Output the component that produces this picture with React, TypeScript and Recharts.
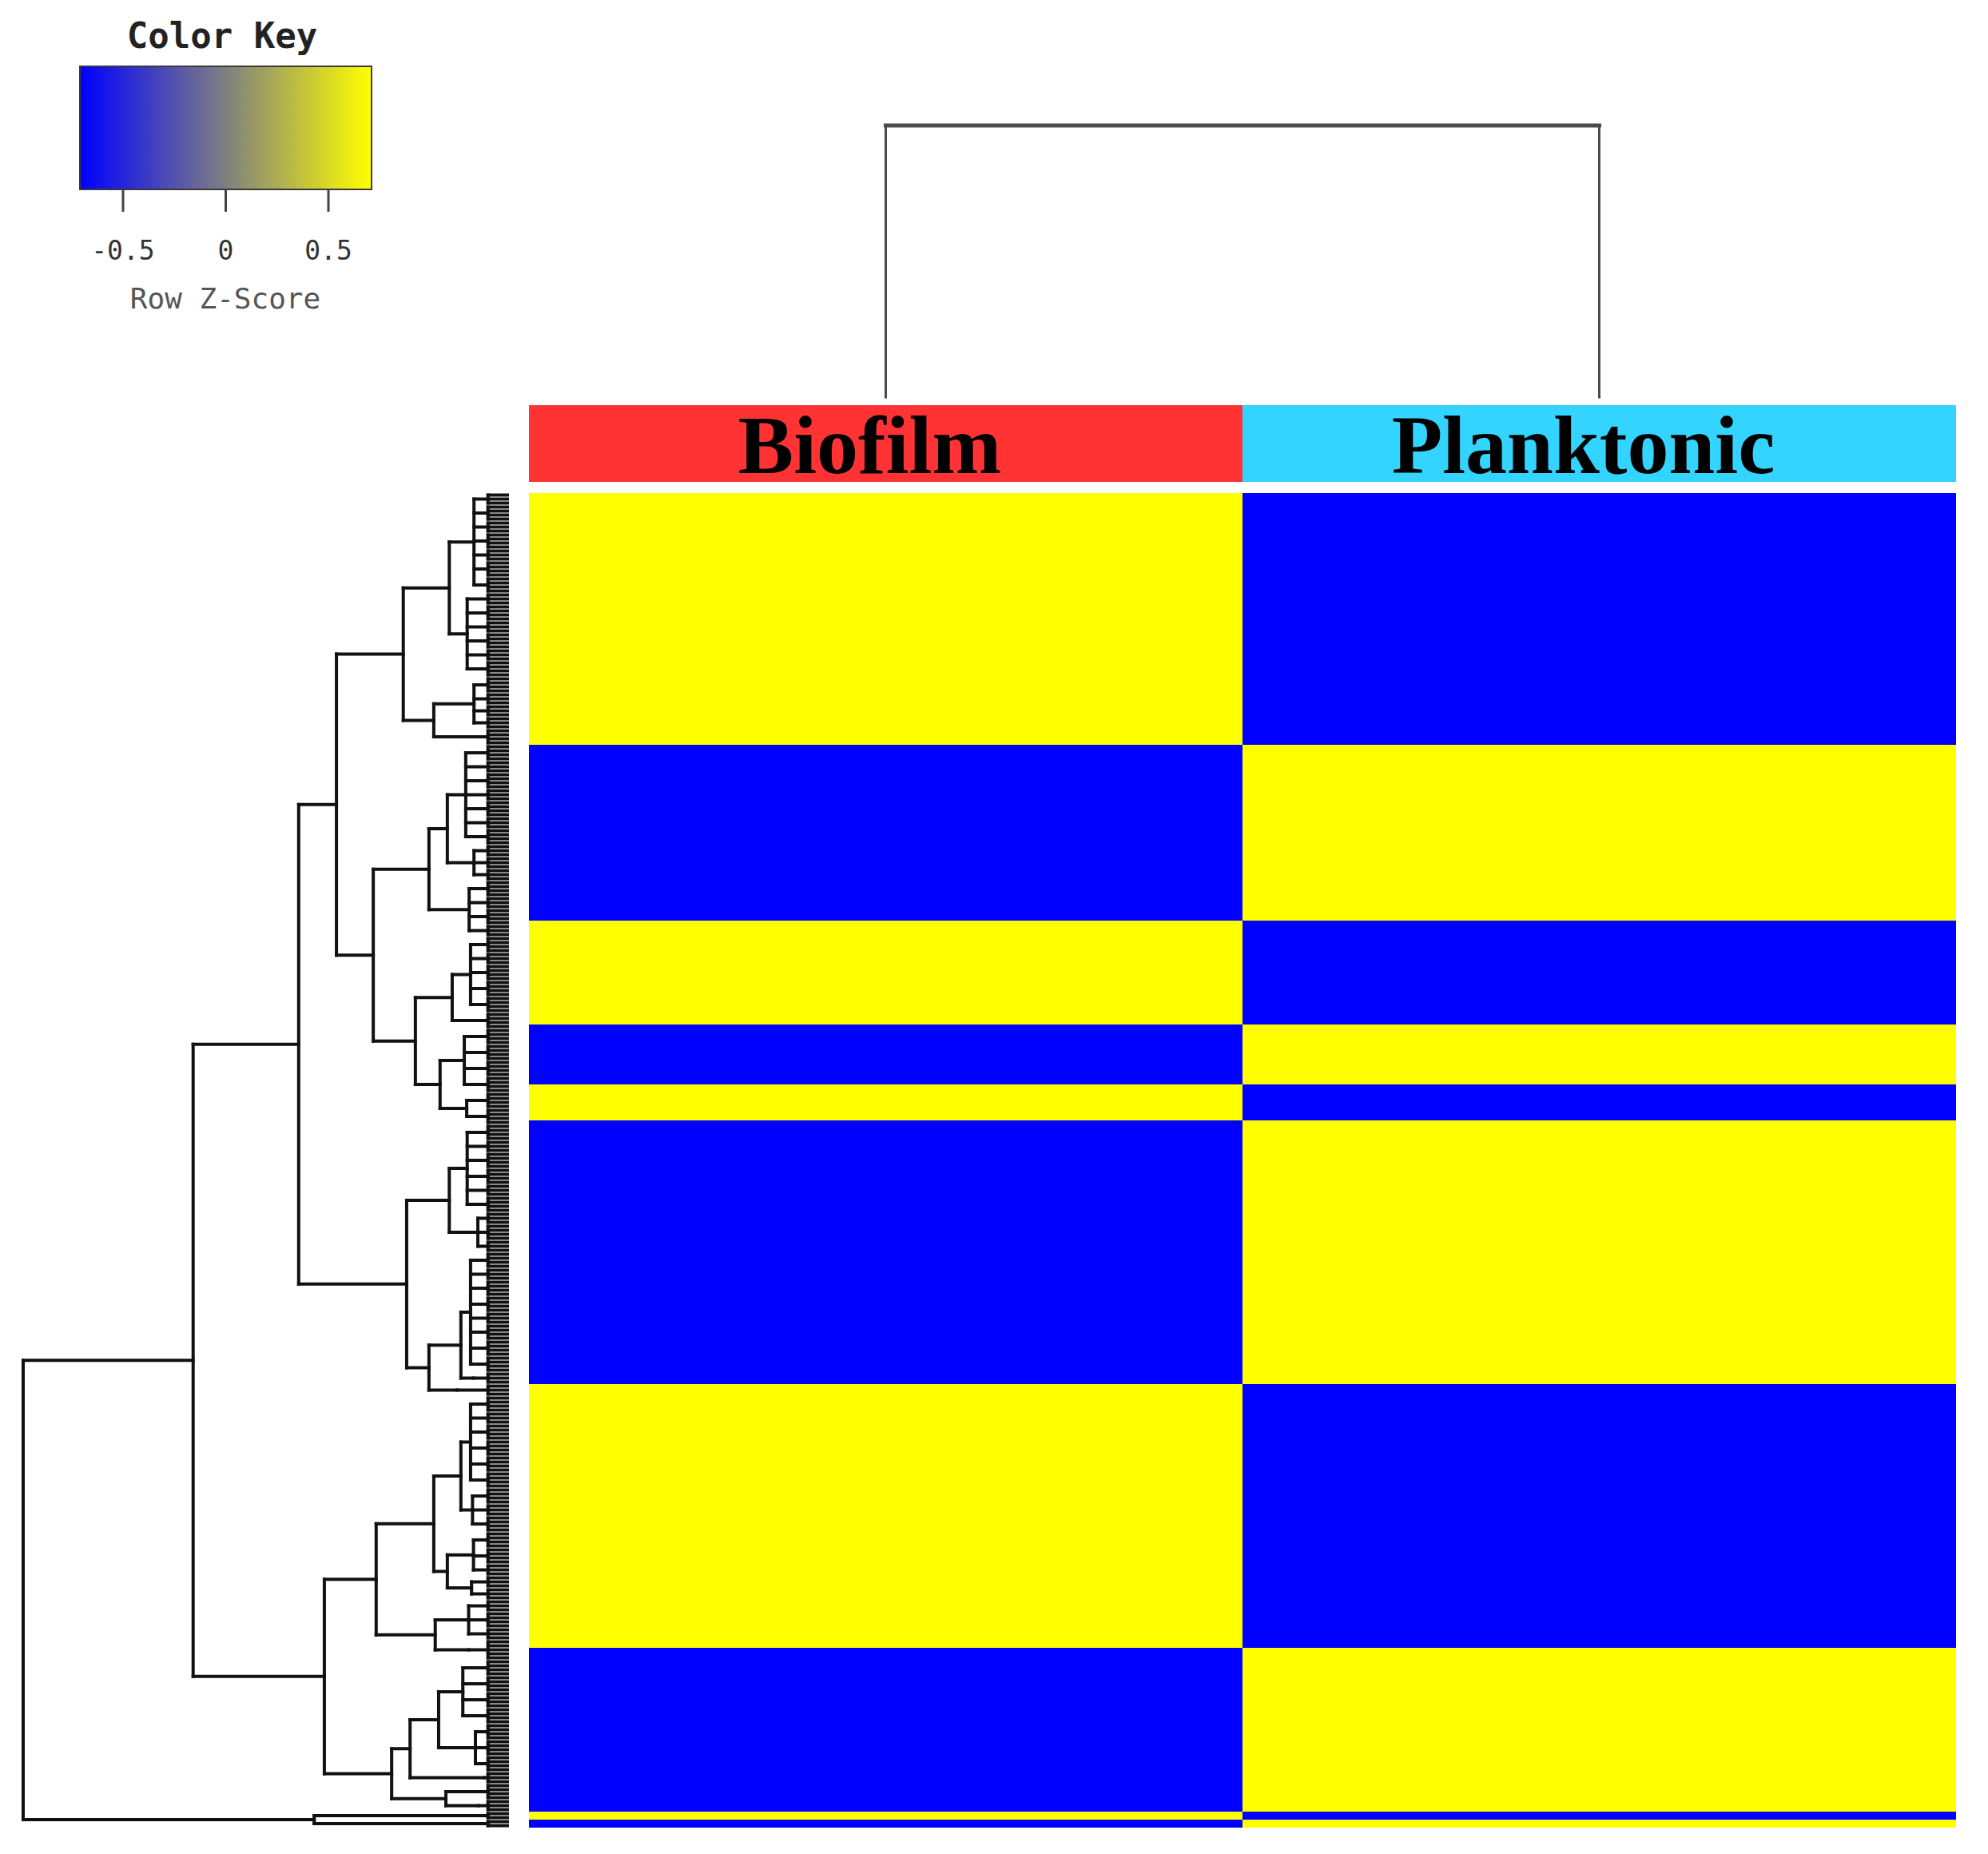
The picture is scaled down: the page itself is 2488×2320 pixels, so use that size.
import React from 'react';
import {
  BarChart, Bar, Cell, XAxis, YAxis, LabelList, ComposedChart, ReferenceLine, ReferenceArea
} from 'recharts';

// samples (columns) and their header colours
const samples = ['Biofilm', 'Planktonic'];
const sampleColors = ['#FF3333', '#33D4FF'];

// heatmap row blocks, top to bottom: number of genes in each block
const blockRows = [63, 44, 26, 15, 9, 66, 66, 41, 2, 2];
// row z-scores per block
const biofilmZ = [0.71, -0.71, 0.71, -0.71, 0.71, -0.71, 0.71, -0.71, 0.71, -0.71];
const planktonicZ = [-0.71, 0.71, -0.71, 0.71, -0.71, 0.71, -0.71, 0.71, -0.71, 0.71];

// colour key
const keyRange = [-0.71, 0.71];
const keyTicks = [-0.5, 0, 0.5];

// column dendrogram merge height
const colMergeHeight = 1;

// row dendrogram leaf clusters: [name, merge height, sizes of their small sub-clusters]
const rowClusters: [string, number, number[]][] = [
  ['t1', 6.9, [3, 4, 3, 4, 3, 4, 4]],
  ['t2', 8.3, [3, 4, 3, 4, 3, 4]],
  ['t3', 6.9, [4, 3, 3, 3]],
  ['t4', 10.4, [4]],
  ['t5', 8.6, [4, 3, 4, 3, 4, 3, 4]],
  ['t6', 6.9, [3, 3, 3]],
  ['t7', 7.9, [4, 3, 4, 3]],
  ['t8', 7.6, [4, 3, 4, 4, 4]],
  ['t9', 7.0, [4]],
  ['t10', 8.9, [4, 4, 4, 4]],
  ['t11', 8.4, [4, 4]],
  ['t12', 8.3, [4, 3, 4, 4, 3, 4]],
  ['t13', 6.1, [3, 4, 3]],
  ['t14', 7.6, [4, 3, 4, 4, 3, 4, 4, 4]],
  ['t15', 7.0, [3]],
  ['t16', 10.4, [3]],
  ['t17', 7.6, [4, 3, 4, 4, 4, 4]],
  ['t18', 7.2, [4, 3, 4]],
  ['t19', 7.0, [4, 4, 3]],
  ['t20', 7.4, [3, 3]],
  ['t21', 8.0, [3, 4, 3]],
  ['t22', 8.0, [5]],
  ['t23', 9.2, [4, 4, 4, 4]],
  ['t24', 6.6, [4, 4, 4]],
  ['t25', 4.8, [3]],
  ['t26', 6.0, [4]],
  ['t27', 6.0, [3]],
  ['z1', 23.9, [2]],
  ['z2', 12.4, [2]],
];

// row dendrogram merges: [name, height, upper child, lower child]
const rowMerges: [string, number, string, string][] = [
  ['D1', 12.0, 't1', 't2'],
  ['D2', 15.2, 't3', 't4'],
  ['D', 21.5, 'D1', 'D2'],
  ['E1a', 12.4, 't5', 't6'],
  ['E1', 16.2, 'E1a', 't7'],
  ['E2t', 11.4, 't8', 't9'],
  ['E2b', 13.9, 't10', 't11'],
  ['E2', 19.0, 'E2t', 'E2b'],
  ['E', 27.7, 'E1', 'E2'],
  ['C', 35.3, 'D', 'E'],
  ['F1', 12.0, 't12', 't13'],
  ['F2t', 9.6, 't14', 't15'],
  ['F2', 16.2, 'F2t', 't16'],
  ['F', 20.8, 'F1', 'F2'],
  ['B', 43.1, 'C', 'F'],
  ['G1at', 9.6, 't17', 't18'],
  ['G1ab', 12.4, 't19', 't20'],
  ['G1a', 15.2, 'G1at', 'G1ab'],
  ['G1b', 14.9, 't21', 't22'],
  ['G1', 27.1, 'G1a', 'G1b'],
  ['G2at', 14.2, 't23', 't24'],
  ['G2a', 20.1, 'G2at', 't25'],
  ['G2b', 12.7, 't26', 't27'],
  ['G2', 23.9, 'G2a', 'G2b'],
  ['G', 37.8, 'G1', 'G2'],
  ['A', 64.9, 'B', 'G'],
  ['Z', 39.9, 'z1', 'z2'],
  ['root', 100, 'A', 'Z'],
];
const rowRoot = 'root';
const rowMaxHeight = 100;
const fringeHeight = 4;

const totalRows = blockRows.reduce((a, b) => a + b, 0);

const zColor = (z: number) => {
  let t = (z - keyRange[0]) / (keyRange[1] - keyRange[0]);
  t = Math.max(0, Math.min(1, t));
  const v = Math.round(255 * t);
  return `rgb(${v},${v},${255 - v})`;
};

type Seg = { x1: number; y1: number; x2: number; y2: number };

// walk the tree, R style: node sits at the midpoint of its two children
function buildRowDendrogram(): Seg[] {
  const clusters = new Map(rowClusters.map(c => [c[0], c]));
  const merges = new Map(rowMerges.map(m => [m[0], m]));
  const segs: Seg[] = [];
  let row = 0;
  const walk = (name: string): { h: number; pos: number } => {
    const m = merges.get(name);
    if (m) {
      const a = walk(m[2]);
      const b = walk(m[3]);
      segs.push({ x1: m[1], y1: a.pos, x2: m[1], y2: b.pos });
      segs.push({ x1: m[1], y1: a.pos, x2: a.h, y2: a.pos });
      segs.push({ x1: m[1], y1: b.pos, x2: b.h, y2: b.pos });
      return { h: m[1], pos: (a.pos + b.pos) / 2 };
    }
    const c = clusters.get(name)!;
    const centers: number[] = [];
    c[2].forEach(n => {
      const first = row + 0.5;
      const last = row + n - 0.5;
      for (let i = 0; i < n; i++) {
        segs.push({ x1: fringeHeight, y1: row + i + 0.5, x2: 0, y2: row + i + 0.5 });
      }
      if (n > 1) segs.push({ x1: fringeHeight, y1: first, x2: fringeHeight, y2: last });
      const mid = (first + last) / 2;
      segs.push({ x1: c[1], y1: mid, x2: fringeHeight, y2: mid });
      centers.push(mid);
      row += n;
    });
    const top = centers[0];
    const bot = centers[centers.length - 1];
    if (centers.length > 1) segs.push({ x1: c[1], y1: top, x2: c[1], y2: bot });
    return { h: c[1], pos: (top + bot) / 2 };
  };
  walk(rowRoot);
  return segs;
}

const rowSegs = buildRowDendrogram();

const colSegs: Seg[] = [
  ...samples.map((_, i) => ({ x1: i + 0.5, y1: 0, x2: i + 0.5, y2: colMergeHeight })),
  { x1: 0.5, y1: colMergeHeight, x2: samples.length - 0.5, y2: colMergeHeight },
];

const heatData = samples.map(s => {
  const row: Record<string, string | number> = { sample: s };
  blockRows.forEach((n, bi) => { row[`b${bi}`] = n; });
  return row;
});
const sampleZ = [biofilmZ, planktonicZ];

const headerData = samples.map(s => ({ sample: s, band: 1 }));

const mono = "'DejaVu Sans Mono', monospace";

const HeaderLabel = (props: any) => {
  const { x, y, width, height, value } = props;
  return (
    <text
      x={x + width / 2 - 20}
      y={y + height - 11}
      textAnchor="middle"
      fontFamily="'Liberation Serif', 'Times New Roman', serif"
      fontWeight={700}
      fontSize={104}
      fill="#000"
    >
      {value}
    </text>
  );
};

const KeyTick = (props: any) => {
  const { x, y, payload } = props;
  return (
    <text x={x} y={y} dy={23} textAnchor="middle" fontFamily={mono} fontSize={33} fill="#333">
      {payload.value}
    </text>
  );
};

export default function App() {
  return (
    <div style={{ position: 'absolute', left: 0, top: 0, width: 2488, height: 2320, background: '#fff', overflow: 'hidden' }}>
      {/* colour key */}
      <div style={{ position: 'absolute', left: 78, top: 20, width: 400, textAlign: 'center', fontFamily: mono, fontWeight: 700, fontSize: 44, color: '#222', lineHeight: '50px' }}>
        Color Key
      </div>
      <div style={{ position: 'absolute', left: 60, top: 70 }}>
        <ComposedChart width={445} height={267} margin={{ top: 13, right: 40, bottom: 0, left: 40 }}>
          <defs>
            <linearGradient id="keyGrad" x1="0" y1="0" x2="1" y2="0">
              <stop offset="0%" stopColor="#0000FF" />
              <stop offset="100%" stopColor="#FFFF00" />
            </linearGradient>
          </defs>
          <XAxis
            type="number"
            dataKey="z"
            domain={keyRange}
            ticks={keyTicks}
            allowDataOverflow
            axisLine={false}
            tickSize={28}
            tickMargin={37}
            height={100}
            tickLine={{ stroke: '#444', strokeWidth: 3 }}
            tick={<KeyTick />}
            interval={0}
          />
          <YAxis type="number" domain={[0, 1]} hide allowDataOverflow />
          <ReferenceArea x1={keyRange[0]} x2={keyRange[1]} y1={0} y2={1} fill="url(#keyGrad)" fillOpacity={1} stroke="#3a3a3a" strokeWidth={2} ifOverflow="visible" />
        </ComposedChart>
      </div>
      <div style={{ position: 'absolute', left: 82, top: 352, width: 400, textAlign: 'center', fontFamily: mono, fontSize: 36, color: '#555', lineHeight: '44px' }}>
        Row Z-Score
      </div>

      {/* column dendrogram */}
      <div style={{ position: 'absolute', left: 662, top: 147 }}>
        <ComposedChart width={1786} height={360} margin={{ top: 10, right: 0, bottom: 10, left: 0 }}>
          <XAxis type="number" dataKey="x" domain={[0, samples.length]} hide allowDataOverflow />
          <YAxis type="number" domain={[0, colMergeHeight]} hide allowDataOverflow />
          {colSegs.map((s, i) => (
            <ReferenceLine
              key={i}
              segment={[{ x: s.x1, y: s.y1 }, { x: s.x2, y: s.y2 }]}
              stroke="#4a4a4a"
              strokeWidth={s.y1 === s.y2 ? 5 : 3}
              strokeLinecap="square"
              ifOverflow="visible"
            />
          ))}
        </ComposedChart>
      </div>

      {/* sample colour bar */}
      <div style={{ position: 'absolute', left: 662, top: 477 }}>
        <BarChart width={1786} height={156} data={headerData} margin={{ top: 30, right: 0, bottom: 30, left: 0 }} barCategoryGap={0} barGap={0}>
          <XAxis dataKey="sample" hide />
          <YAxis type="number" domain={[0, 1]} hide />
          <Bar dataKey="band" isAnimationActive={false}>
            {headerData.map((d, i) => <Cell key={d.sample} fill={sampleColors[i]} />)}
            <LabelList dataKey="sample" content={<HeaderLabel />} />
          </Bar>
        </BarChart>
      </div>

      {/* heatmap */}
      <div style={{ position: 'absolute', left: 662, top: 617 }}>
        <BarChart width={1786} height={1670} data={heatData} margin={{ top: 0, right: 0, bottom: 0, left: 0 }} barCategoryGap={0} barGap={0}>
          <XAxis dataKey="sample" hide />
          <YAxis type="number" domain={[0, totalRows]} reversed hide allowDataOverflow />
          {blockRows.map((_, bi) => (
            <Bar key={bi} dataKey={`b${bi}`} stackId="rows" isAnimationActive={false}>
              {samples.map((s, si) => <Cell key={s} fill={zColor(sampleZ[si][bi])} />)}
            </Bar>
          ))}
        </BarChart>
      </div>

      {/* row dendrogram */}
      <div style={{ position: 'absolute', left: 19, top: 607 }}>
        <ComposedChart width={626} height={1690} margin={{ top: 10, right: 10, bottom: 10, left: 10 }}>
          <XAxis type="number" dataKey="h" domain={[0, rowMaxHeight]} reversed hide allowDataOverflow />
          <YAxis type="number" dataKey="row" domain={[0, totalRows]} reversed hide allowDataOverflow />
          {rowSegs.map((s, i) => (
            <ReferenceLine
              key={i}
              segment={[{ x: s.x1, y: s.y1 }, { x: s.x2, y: s.y2 }]}
              stroke="#111"
              strokeWidth={4}
              strokeLinecap="square"
              ifOverflow="visible"
            />
          ))}
        </ComposedChart>
      </div>
    </div>
  );
}
